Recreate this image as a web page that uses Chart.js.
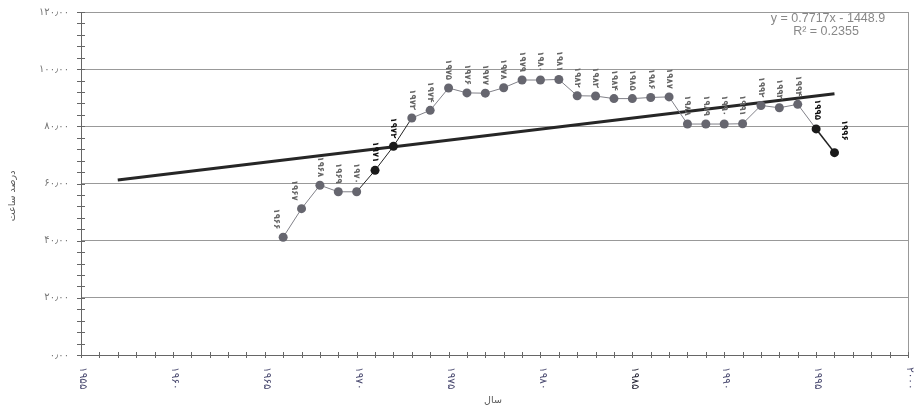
<!DOCTYPE html>
<html>
<head>
<meta charset="utf-8">
<script src="https://cdn.jsdelivr.net/npm/chart.js@4/dist/chart.umd.min.js"></script>
<style>
  html, body { margin: 0; padding: 0; background: #fff; }
  #wrap { width: 918px; height: 409px; }
</style>
</head>
<body>
<div id="wrap"><canvas id="c" width="918" height="409"></canvas></div>
<script>
// ---- data ----
const years = [1966,1967,1968,1969,1970,1971,1972,1973,1974,1975,1976,1977,1978,1979,1980,1981,1982,1983,1984,1985,1986,1987,1988,1989,1990,1991,1992,1993,1994,1995,1996];
const values = [41.2,51.2,59.4,57.1,57.1,64.6,73.0,82.9,85.6,93.4,91.7,91.6,93.5,96.2,96.2,96.4,90.7,90.6,89.7,89.7,90.1,90.3,80.8,80.8,80.8,80.9,87.3,86.5,87.7,79.1,70.8];
const darkYears = [1971,1972,1995,1996];
const trendYears = [1957,1996];
const trendValues = [61.2,91.4];
const xTickYears = [1955,1960,1965,1970,1975,1980,1985,1990,1995,2000];
const yTickValues = [0,20,40,60,80,100,120];
const equationLines = ['y = 0.7717x - 1448.9','R\u00B2 = 0.2355'];
const yTitle = 'درصد ساعت';
const xTitle = 'سال';

const FA = '۰۱۲۳۴۵۶۷۸۹';
function toFa(s){ return String(s).replace(/[0-9]/g, d => FA[+d]); }
function yLabel(v){ return toFa(v) + '٫' + toFa('00'); }

const seriesPts = years.map((y,i)=>({x:y, y:values[i]}));
const trendPts = trendYears.map((y,i)=>({x:y, y:trendValues[i]}));

const faFont = '"DejaVu Sans", sans-serif';

const decor = {
  id: 'decor',
  afterDraw(chart){
    const ctx = chart.ctx, xs = chart.scales.x, ys = chart.scales.y, a = chart.chartArea;
    ctx.save();
    ctx.direction = 'ltr';
    // right border
    ctx.strokeStyle = '#999'; ctx.lineWidth = 1;
    ctx.beginPath(); ctx.moveTo(a.right+0.5, a.top); ctx.lineTo(a.right+0.5, a.bottom); ctx.stroke();
    // ticks on x axis (every year)
    ctx.strokeStyle = '#666';
    for (let yr = 1955; yr <= 2000; yr++){
      const px = Math.round(xs.getPixelForValue(yr))+0.5;
      ctx.beginPath(); ctx.moveTo(px, a.bottom-3); ctx.lineTo(px, a.bottom+3); ctx.stroke();
    }
    // ticks on y axis (every 4)
    for (let v = 0; v <= 120; v += 4){
      const py = Math.round(ys.getPixelForValue(v))+0.5;
      ctx.beginPath(); ctx.moveTo(a.left-4, py); ctx.lineTo(a.left+4, py); ctx.stroke();
    }
    // y tick labels
    ctx.font = '10px ' + faFont;
    ctx.fillStyle = '#777';
    ctx.textAlign = 'right'; ctx.textBaseline = 'middle';
    try { ctx.letterSpacing = '1.5px'; } catch(e) {}
    yTickValues.forEach(v => {
      ctx.fillText(yLabel(v), a.left - 12, ys.getPixelForValue(v));
    });
    try { ctx.letterSpacing = '0px'; } catch(e) {}
    // x tick labels rotated clockwise
    ctx.font = '10.5px ' + faFont;
    ctx.textAlign = 'left'; ctx.textBaseline = 'middle';
    xTickYears.forEach(yr => {
      const px = xs.getPixelForValue(yr) + 2;
      ctx.save();
      ctx.translate(px, a.bottom + 12);
      ctx.rotate(Math.PI/2);
      ctx.fillStyle = yr === 1985 ? '#222233' : '#4a4a70';
      ctx.fillText(toFa(yr), 0, 0);
      ctx.restore();
    });
    // data labels
    ctx.font = 'bold 8.5px ' + faFont;
    ctx.textAlign = 'right'; ctx.textBaseline = 'middle';
    const meta = chart.getDatasetMeta(0);
    meta.data.forEach((el, i) => {
      const yr = years[i];
      let dx = 0, dy = -8;
      if (yr === 1966 || yr === 1967) dx = -7;
      if (yr === 1996) { dx = 10; dy = -12; }
      if (yr === 1995) { dx = 1; dy = -9; }
      ctx.save();
      ctx.translate(el.x + dx, el.y + dy);
      ctx.rotate(Math.PI/2);
      ctx.fillStyle = darkYears.includes(yr) ? '#111' : '#666';
      ctx.fillText(toFa(yr), 0, 0);
      ctx.restore();
    });
    // equation
    ctx.font = '12.5px "Liberation Sans", Arial, sans-serif';
    ctx.fillStyle = '#888'; ctx.textAlign = 'center'; ctx.textBaseline = 'middle';
    ctx.fillText(equationLines[0], 828, 19);
    ctx.fillText(equationLines[1], 826, 32);
    // titles
    ctx.font = '9.5px ' + faFont; ctx.fillStyle = '#555';
    ctx.save(); ctx.translate(13, 196); ctx.rotate(-Math.PI/2);
    ctx.fillText(yTitle, 0, 0); ctx.restore();
    ctx.fillText(xTitle, 493, 401);
    ctx.restore();
  }
};

new Chart(document.getElementById('c'), {
  type: 'line',
  data: {
    datasets: [
      {
        data: seriesPts,
        order: 0,
        borderColor: '#808088',
        borderWidth: 1,
        segment: {
          borderColor: c => {
            const y0 = years[c.p0DataIndex];
            return (y0 >= 1970 && y0 <= 1972) || y0 === 1995 ? '#222' : '#808088';
          },
          borderWidth: c => years[c.p0DataIndex] === 1995 ? 1.6 : 1
        },
        pointRadius: 4.5,
        pointBorderWidth: 0,
        pointBackgroundColor: c => darkYears.includes(years[c.dataIndex]) ? '#1a1a1a' : '#66666f',
        tension: 0
      },
      {
        data: trendPts,
        order: 1,
        borderColor: '#262626',
        borderWidth: 3,
        pointRadius: 0,
        tension: 0
      }
    ]
  },
  options: {
    responsive: false,
    animation: false,
    devicePixelRatio: 1,
    layout: { padding: { top: 12, right: 10, left: 0, bottom: 0 } },
    plugins: { legend: { display: false }, tooltip: { enabled: false } },
    scales: {
      x: {
        type: 'linear', min: 1955, max: 2000,
        ticks: { display: false, stepSize: 5 },
        grid: { display: false },
        border: { display: true, color: '#666' },
        afterFit: s => { s.height = 54; }
      },
      y: {
        min: 0, max: 120,
        afterBuildTicks: s => { s.ticks = yTickValues.map(v => ({ value: v })); },
        ticks: { display: false },
        grid: { color: '#999', lineWidth: 1, drawTicks: false },
        border: { display: true, color: '#666' },
        afterFit: s => { s.width = 81; }
      }
    }
  },
  plugins: [decor]
});
</script>
</body>
</html>
